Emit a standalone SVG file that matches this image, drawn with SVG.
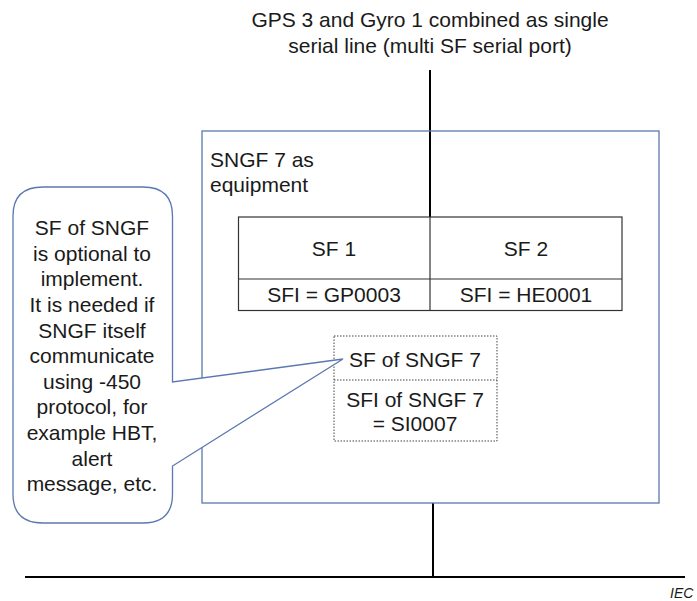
<svg xmlns="http://www.w3.org/2000/svg" width="697" height="601" viewBox="0 0 697 601">
<style>
text{font-family:"Liberation Sans",Arial,sans-serif;font-size:21px;fill:#1a1a1a}
.c{text-anchor:middle}
.blue{fill:#fff;stroke:#5b78b0;stroke-width:1.3}
.tbl{fill:none;stroke:#333;stroke-width:1.2}
.dot{fill:none;stroke:#444;stroke-width:1;stroke-dasharray:1.5 1.5}
.wire{stroke:#000;stroke-width:2;fill:none}
</style>
<g id="connectors">
<line class="wire" x1="430" y1="70" x2="430" y2="217"/>
<line class="wire" x1="433" y1="503" x2="433" y2="577"/>
<line class="wire" x1="25" y1="577" x2="685" y2="577"/>
</g>
<text class="c" x="430" y="27">GPS 3 and Gyro 1 combined as single</text>
<text class="c" x="430" y="53">serial line (multi SF serial port)</text>
<g id="sngf7">
<rect class="blue" x="202" y="131" width="457" height="372" style="fill:none"/>
<text x="210" y="167">SNGF 7 as</text>
<text x="210" y="192">equipment</text>
</g>
<g id="sf-table">
<rect class="tbl" x="238.5" y="217" width="383.5" height="93.5"/>
<line class="tbl" x1="238.5" y1="279" x2="622" y2="279"/>
<line class="tbl" x1="430" y1="217" x2="430" y2="310.5"/>
<text class="c" x="334" y="256">SF 1</text>
<text class="c" x="526" y="256">SF 2</text>
<text class="c" x="334" y="302">SFI = GP0003</text>
<text class="c" x="526" y="302">SFI = HE0001</text>
</g>
<g id="sf-sngf7">
<rect class="dot" x="334" y="336" width="163" height="105"/>
<line class="dot" x1="334" y1="380" x2="497" y2="380"/>
<text class="c" x="415" y="367">SF of SNGF 7</text>
<text class="c" x="415" y="407">SFI of SNGF 7</text>
<text class="c" x="415" y="431">= SI0007</text>
</g>
<g id="callout">
<path class="blue" d="M43,187 H143 Q172.5,187 172.5,216 V382 L343,359 L172.5,466 V494 Q172.5,523 143,523 H43 Q13,523 13,494 V216 Q13,187 43,187 Z"/>
<text class="c" x="92" y="235">SF of SNGF</text>
<text class="c" x="92" y="261">is optional to</text>
<text class="c" x="92" y="286">implement.</text>
<text class="c" x="92" y="312">It is needed if</text>
<text class="c" x="92" y="338">SNGF itself</text>
<text class="c" x="92" y="363">communicate</text>
<text class="c" x="92" y="389">using -450</text>
<text class="c" x="92" y="414">protocol, for</text>
<text class="c" x="92" y="440">example HBT,</text>
<text class="c" x="92" y="466">alert</text>
<text class="c" x="92" y="491">message, etc.</text>
</g>
<text x="670" y="598" style="font-size:14px;font-style:italic">IEC</text>
</svg>
